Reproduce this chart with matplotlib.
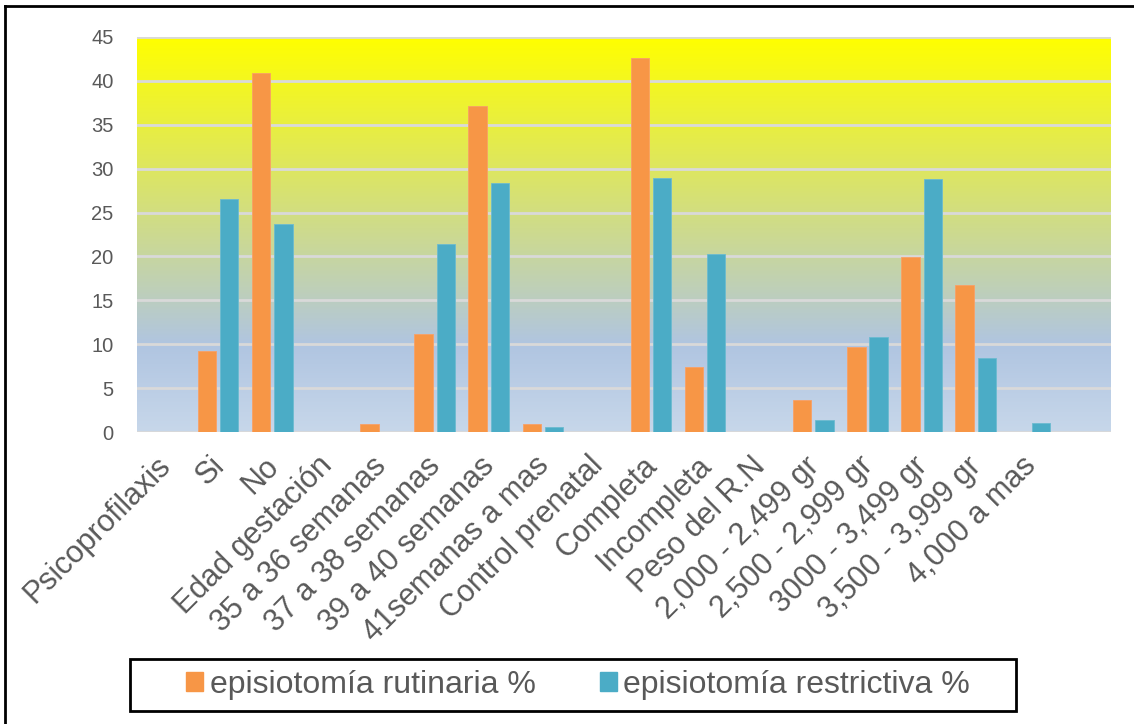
import numpy as np
import matplotlib.pyplot as plt
import matplotlib.transforms as mtransforms
from matplotlib.colors import LinearSegmentedColormap
from matplotlib.patches import Rectangle, Patch
from matplotlib.lines import Line2D

plt.rcParams['font.family'] = ['Liberation Sans', 'DejaVu Sans']

categories = ["Psicoprofilaxis", "Si", "No", "Edad gestación", "35 a 36 semanas",
              "37 a 38 semanas", "39 a 40 semanas", "41semanas a mas", "Control prenatal",
              "Completa", "Incompleta", "Peso del R.N", "2,000 - 2,499 gr",
              "2,500 - 2,999 gr", "3000 - 3,499 gr", "3,500 - 3,999 gr", "4,000 a mas", ""]
rutinaria = [0, 9.2, 40.9, 0, 0.95, 11.2, 37.1, 0.95, 0, 42.6, 7.4, 0, 3.7, 9.7, 19.9, 16.7, 0, 0]
restrictiva = [0, 26.5, 23.7, 0, 0, 21.4, 28.4, 0.55, 0, 28.9, 20.3, 0, 1.4, 10.8, 28.8, 8.4, 1.0, 0]
yticks = [0, 5, 10, 15, 20, 25, 30, 35, 40, 45]

orange = '#F79646'
blue = '#4BACC6'
text_col = '#595959'

fig = plt.figure(figsize=(11.34, 7.24), dpi=100)
ax = fig.add_axes([137/1134, 1 - 432/724, (1111-137)/1134, (432-37)/724])

x = np.arange(len(categories))
ax.set_xlim(-0.5, len(categories) - 0.5)
ax.set_ylim(0, 45)

# gradient background (yellow top -> light blue bottom)
cmap = LinearSegmentedColormap.from_list('bg', [(0.0, '#C7D7EA'), (0.22, '#B0C5E1'),
                                                (1.0, '#FFFF00')])
grad = np.linspace(0, 1, 256).reshape(-1, 1)
ax.imshow(grad, cmap=cmap, aspect='auto', origin='lower',
          extent=[-0.5, len(categories) - 0.5, 0, 45], zorder=0)

for yv in yticks:
    ax.axhline(yv, color='#D9D9D9', lw=2, zorder=1)

w = 0.34
ax.bar(x - 0.205, rutinaria, w, color=orange, edgecolor='#F9A066', lw=0.6, zorder=2)
ax.bar(x + 0.205, restrictiva, w, color=blue, edgecolor='#6CBBD0', lw=0.6, zorder=2)

for s in ax.spines.values():
    s.set_visible(False)

ax.set_yticks(yticks)
ax.set_yticklabels([str(v) for v in yticks], fontsize=14.5, color=text_col)
ax.tick_params(axis='y', length=0, pad=17)
ax.tick_params(axis='x', length=0)
ax.set_xticks(x)
ax.set_xticklabels(categories, rotation=45, ha='right', va='top',
                   rotation_mode='anchor', fontsize=22, color=text_col)
offset = mtransforms.ScaledTranslation(-9/100, -14/100, fig.dpi_scale_trans)
for lab in ax.get_xticklabels():
    lab.set_transform(lab.get_transform() + offset)

# legend with its own box
fig.patches.append(Rectangle((130/1134, 1 - 711/724), 886/1134, 52/724,
                             transform=fig.transFigure, fill=False,
                             edgecolor='black', lw=2))
handles = [Patch(color=orange), Patch(color=blue)]
leg = fig.legend(handles, ['episiotomía rutinaria %', 'episiotomía restrictiva %'],
                 loc='center', bbox_to_anchor=(578/1134, 1 - 685/724), ncol=2,
                 frameon=False, fontsize=23, handlelength=0.55, handleheight=0.55,
                 handletextpad=0.2, columnspacing=2.0)
for t in leg.get_texts():
    t.set_color(text_col)

# outer border (top and left visible)
fig.add_artist(Line2D([5/1134, 1], [1 - 6/724, 1 - 6/724], color='black', lw=2,
                      transform=fig.transFigure))
fig.add_artist(Line2D([5/1134, 5/1134], [0, 1 - 6/724], color='black', lw=2,
                      transform=fig.transFigure))

fig.savefig('out.png', dpi=100)
